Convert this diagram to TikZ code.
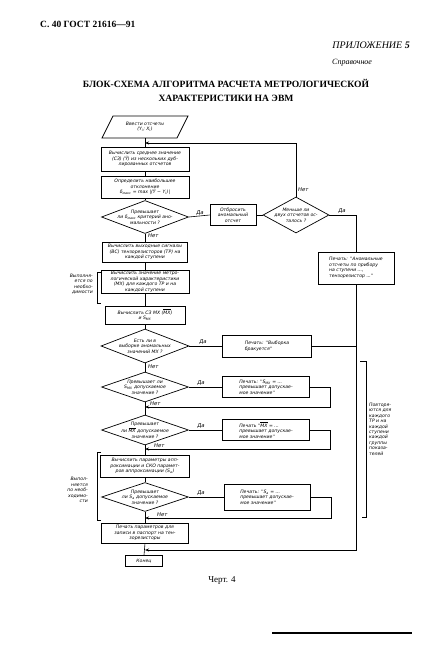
\documentclass[tikz,border=0pt]{standalone}
\usepackage{fontspec}
\setmainfont{Liberation Serif}
\newfontfamily\hand{DejaVu Sans}
\usetikzlibrary{shapes.geometric,arrows.meta}
\begin{document}
\begin{tikzpicture}[x=1pt,y=-1pt,
  ln/.style={line width=0.6pt},
  bx/.style={draw, line width=0.7pt, rectangle, inner sep=0pt,
    font=\hand\itshape\fontsize{4.6}{5.5}\selectfont, align=center},
  txt/.style={inner sep=0pt, font=\hand\itshape\fontsize{4.6}{5.5}\selectfont, align=center},
  dia/.style={draw, line width=0.7pt, diamond, inner sep=0pt},
  lab/.style={inner sep=0pt, font=\hand\itshape\fontsize{5.3}{6}\selectfont},
  side/.style={inner sep=0pt, font=\hand\itshape\fontsize{4.6}{5.4}\selectfont, align=right},
  arr/.style={ln, -{Stealth[length=4pt,width=3pt]}}]
\useasboundingbox (0,0) rectangle (422,647);
\fill[white] (0,0) rectangle (422,647);

% headers
\node[anchor=west, inner sep=0pt, font=\bfseries\fontsize{9.5}{11}\selectfont] (hdr) at (40,24) {С. 40 ГОСТ 21616—91};
\node[anchor=east, inner sep=0pt, font=\itshape\fontsize{10}{12}\selectfont] (app) at (410,45) {ПРИЛОЖЕНИЕ \textbf{5}};
\node[anchor=west, inner sep=0pt, font=\itshape\fontsize{8}{10}\selectfont] (spr) at (332,63) {Справочное};
\node[inner sep=0pt, align=center, font=\bfseries\fontsize{9.6}{14}\selectfont] (title) at (226,90)
  {БЛОК-СХЕМА АЛГОРИТМА РАСЧЕТА МЕТРОЛОГИЧЕСКОЙ\\ХАРАКТЕРИСТИКИ НА ЭВМ};

% input parallelogram
\draw[line width=0.7pt] (113,116) -- (188,116) -- (177,138) -- (102,138) -- cycle;
\node[txt, minimum width=70pt, minimum height=22pt] (in) at (145,127) {Ввести отсчеты\\(Y\textsubscript{i}; X\textsubscript{i})};

% main column
\node[bx, minimum width=88pt, minimum height=24pt] (b1) at (145,159)
  {Вычислить среднее значение\\(СЗ) (\={Y}) из нескольких дуб-\\лированных отсчетов};
\node[bx, minimum width=88pt, minimum height=22pt] (b2) at (145,187)
  {Определить наибольшее\\отклонение\\δ\textsubscript{макс} = max |(\={Y} − Y\textsubscript{i})|};
\node[dia, minimum width=87pt, minimum height=33pt] (d1) at (145,217) {};
\node[txt] (d1t) at (d1.center) {Превышает\\ли δ\textsubscript{макс} критерий ано-\\мальности ?};

\node[bx, minimum width=46pt, minimum height=21pt] (dis) at (233,215) {Отбросить\\аномальный\\отсчет};
\node[dia, minimum width=66pt, minimum height=36pt] (d2) at (296,215) {};
\node[txt] (d2t) at (d2.center) {Меньше ли\\двух отсчетов ос-\\талось ?};
\node[bx, minimum width=76pt, minimum height=32pt, align=left] (p1) at (356,268)
  {Печать: ''Аномальные\\отсчеты по прибору\\на ступени ...,\\тензорезистор ...''};

\node[bx, minimum width=85pt, minimum height=20pt] (b3) at (145,252)
  {Вычислить выходные сигналы\\(ВС) тензорезисторов (ТР) на\\каждой ступени};
\node[bx, minimum width=88pt, minimum height=23pt] (b4) at (145,282)
  {Вычислить значение метро-\\логической характеристики\\(МХ) для каждого ТР и на\\каждой ступени};
\node[bx, minimum width=80pt, minimum height=18pt] (b5) at (145,315)
  {Вычислить СЗ МХ ($\overline{\mbox{МХ}}$)\\и S\textsubscript{МХ}};
\node[dia, minimum width=88pt, minimum height=34pt] (d3) at (145,346) {};
\node[txt] (d3t) at (d3.center) {Есть ли в\\выборке аномальных\\значений МХ ?};
\node[bx, minimum width=89pt, minimum height=22pt, align=left] (p3) at (267,346)
  {Печать: ''Выборка\\бракуется''};

\node[dia, minimum width=87pt, minimum height=30pt] (d4) at (145,387) {};
\node[txt] (d4t) at (d4.center) {Превышает ли\\S\textsubscript{МХ} допускаемое\\значение ?};
\node[bx, minimum width=87pt, minimum height=21pt, align=left] (p4) at (266,387)
  {Печать: ''S\textsubscript{МХ} = ...\\превышает допускае-\\мое значение''};

\node[dia, minimum width=87pt, minimum height=30pt] (d5) at (145,430) {};
\node[txt] (d5t) at (d5.center) {Превышает\\ли $\overline{\mbox{МХ}}$ допускаемое\\значение ?};
\node[bx, minimum width=87pt, minimum height=21pt, align=left] (p5) at (266,430)
  {Печать ''$\overline{\mbox{МХ}}$ = ...\\превышает допускае-\\мое значение''};

\node[bx, minimum width=89pt, minimum height=22pt] (b6) at (145,466)
  {Вычислить параметры апп-\\роксимации и СКО парамет-\\ров аппроксимации (S\textsubscript{a})};
\node[dia, minimum width=87pt, minimum height=29pt] (d6) at (145,497) {};
\node[txt] (d6t) at (d6.center) {Превышает\\ли S\textsubscript{a} допускаемое\\значение ?};
\node[bx, minimum width=86pt, minimum height=26pt, align=left] (p6) at (267,497)
  {Печать: ''S\textsubscript{a} = ...\\превышает допускае-\\мое значение''};

\node[bx, minimum width=87pt, minimum height=20pt] (b7) at (145,533)
  {Печать параметров для\\записи в паспорт на тен-\\зорезисторы};
\node[bx, minimum width=37pt, minimum height=11pt] (end) at (144,561) {Конец};

% junction points
\coordinate (j0) at (145,143);
\coordinate (l4) at (330,407); \coordinate (j4) at (145,407);
\coordinate (l5) at (330,449); \coordinate (j5) at (145,449);
\coordinate (l6) at (331,518); \coordinate (j6) at (145,518);
\coordinate (jend) at (145,550);

% connectors main
\draw[ln] (in.south) -- (b1.north);
\draw[ln] (b1.south) -- (b2.north);
\draw[ln] (b2.south) -- (d1.north);
\draw[ln] (d1.south) -- (b3.north);
\draw[ln] (b3.south) -- (b4.north);
\draw[ln] (b4.south) -- (b5.north);
\draw[ln] (b5.south) -- (d3.north);
\draw[ln] (d3.south) -- (d4.north);
\draw[ln] (d4.south) -- (d5.north);
\draw[ln] (d5.south) -- (b6.north);
\draw[ln] (b6.south) -- (d6.north);
\draw[ln] (d6.south) -- (b7.north);
\draw[ln] (b7.south) -- (end.north);

% branch connectors
\draw[ln] (d1.east) -- (dis.west);
\draw[ln] (dis.east) -- (d2.west);
\draw[arr] (d2.north) |- (j0);
\draw[ln] (d2.east) -| (p1.north);
\draw[arr] (p1.south) |- (jend);
\draw[ln] (p3.east) -- (p3.east -| p1.south);
\draw[ln] (d3.east) -- (p3.west);
\draw[ln] (d4.east) -- (p4.west);
\draw[arr] (p4.east) -| (l4) -- (j4);
\draw[ln] (d5.east) -- (p5.west);
\draw[arr] (p5.east) -| (l5) -- (j5);
\draw[ln] (d6.east) -- (p6.west);
\draw[arr] (p6.east) -| (l6) -- (j6);

% labels
\node[lab, anchor=south] (ya1) at (200,216) {Да};
\node[lab, anchor=south west] (no2) at (298,192) {Нет};
\node[lab, anchor=south] (ya2) at (342,214) {Да};
\node[lab, anchor=west] (no1) at (148,236) {Нет};
\node[lab, anchor=south] (ya3) at (203,345) {Да};
\node[lab, anchor=west] (no3) at (148,367) {Нет};
\node[lab, anchor=south] (ya4) at (201,386) {Да};
\node[lab, anchor=south west] (no4) at (150,406) {Нет};
\node[lab, anchor=south] (ya5) at (201,429) {Да};
\node[lab, anchor=south west] (no5) at (154,448) {Нет};
\node[lab, anchor=south] (ya6) at (201,496) {Да};
\node[lab, anchor=south west] (no6) at (157,517) {Нет};

% side brackets and notes
\draw[ln] (101,272) -- (97,272) -- (97,303) -- (101,303);
\node[side, anchor=east] (s1) at (93,284) {Выполня-\\ется по\\необхо-\\димости};
\draw[ln] (101,452) -- (97,452) -- (97,520) -- (101,520);
\node[side, anchor=east] (s2) at (88,490) {Выпол-\\няется\\по необ-\\ходимо-\\сти};
\draw[ln] (360,361) -- (366,361) -- (366,517) -- (362,517);
\node[side, anchor=north west, align=left] (s3) at (369,403) {Повторя-\\ются для\\каждого\\ТР и на\\каждой\\ступени\\каждой\\группы\\показа-\\телей};

% caption and bottom rule
\node[inner sep=0pt, font=\fontsize{9}{10}\selectfont] (cap) at (222,580) {Черт. 4};
\draw[line width=2.5pt] (272,633) -- (412,633);
\end{tikzpicture}
\end{document}
